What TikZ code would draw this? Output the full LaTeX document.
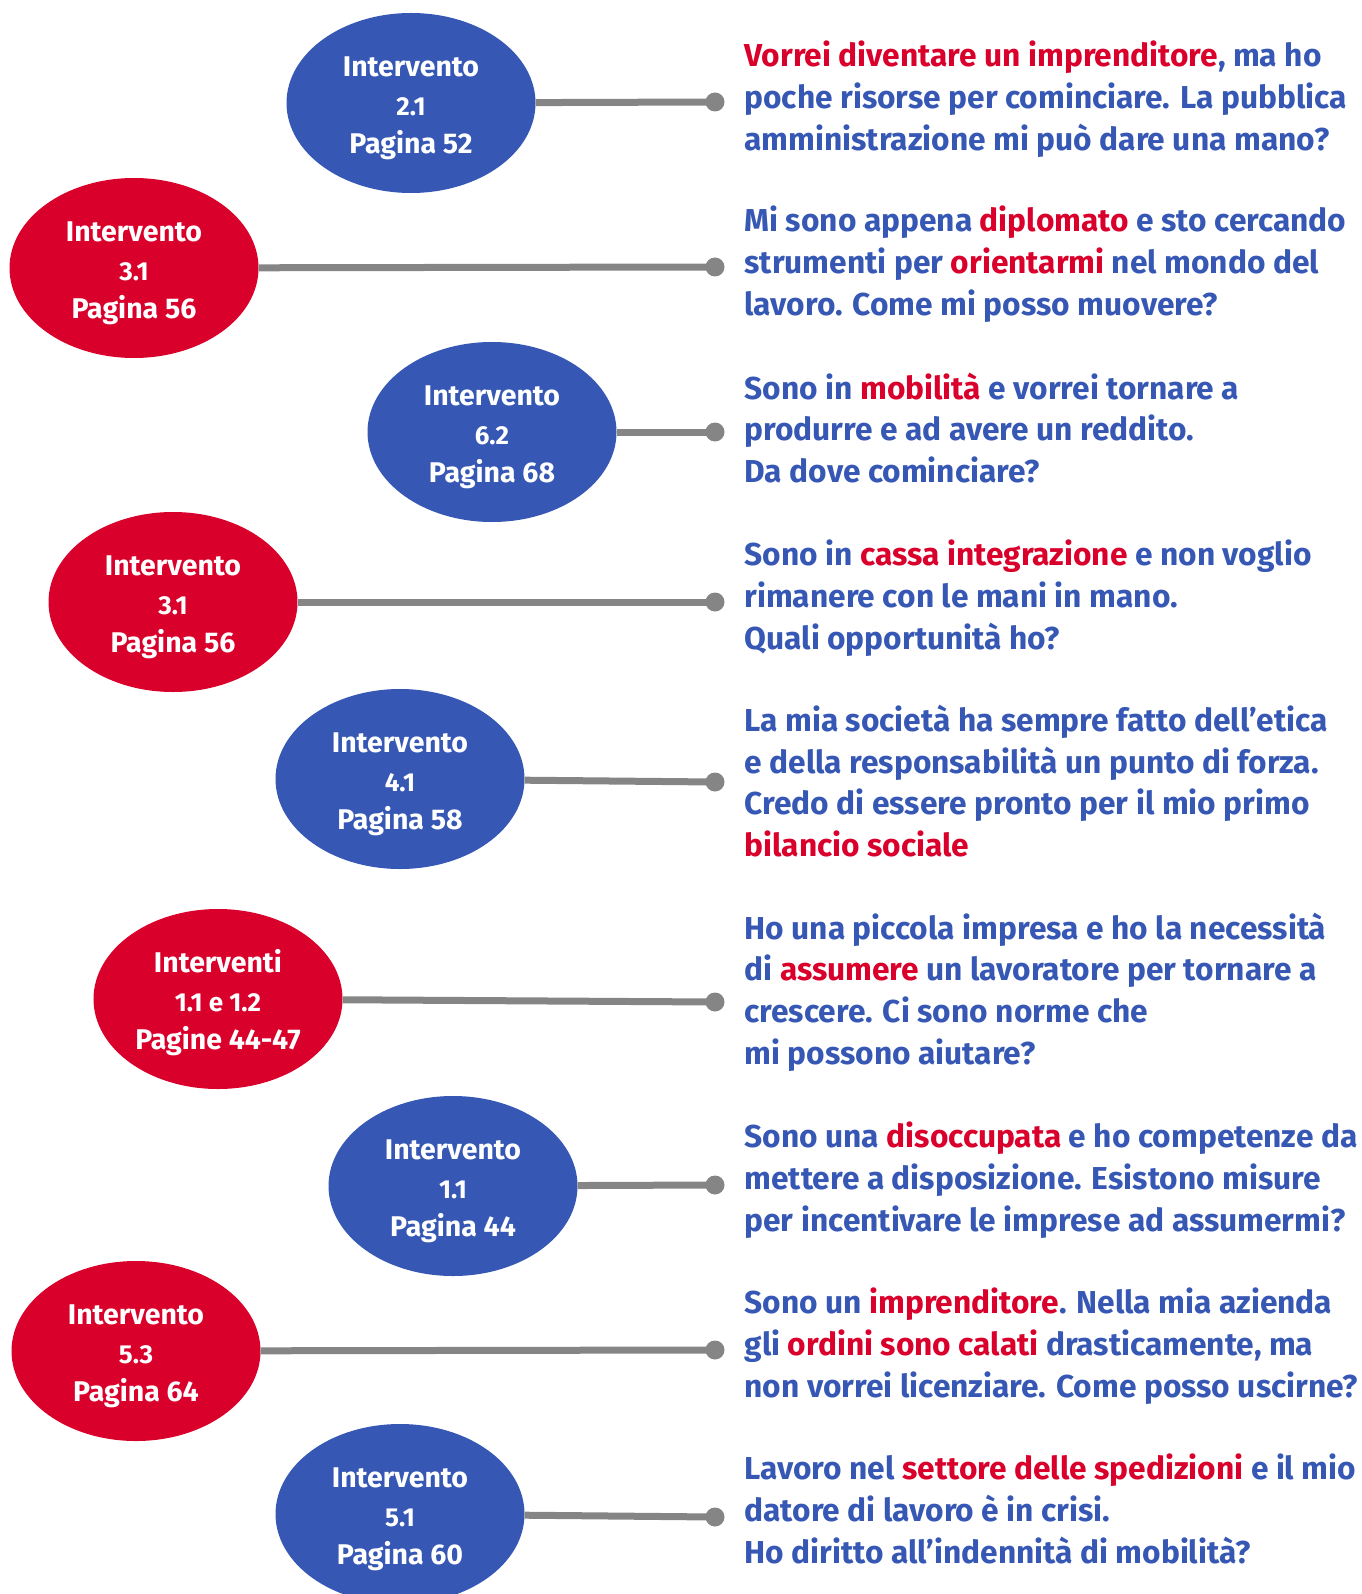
\documentclass[tikz,border=0pt]{standalone}
\usepackage{fontspec}
\setmainfont{Fira Sans}
\usetikzlibrary{shapes.geometric}

\definecolor{accentblue}{RGB}{54,88,180}
\definecolor{accentred}{RGB}{217,0,43}
\definecolor{wiregray}{RGB}{133,133,133}

\newcommand{\hl}[1]{\textcolor{accentred}{#1}}
% three lines of a bubble, the middle one a bit smaller
\newcommand{\bubbletext}[3]{\rule{0pt}{31pt}#1\\{\fontsize{26}{38.6}\selectfont #2}\\#3}

\tikzset{
  bubble/.style={ellipse, minimum width=249pt, minimum height=180pt, inner sep=0pt,
    text=white, align=center, font=\fontsize{28.5}{38.6}\selectfont\bfseries},
  bluebubble/.style={bubble, fill=accentblue},
  redbubble/.style={bubble, fill=accentred},
  question/.style={anchor=west, align=left, text=accentblue,
    font=\fontsize{31.7}{41.7}\selectfont\bfseries},
  wire/.style={line width=7pt, draw=wiregray},
  knob/.style={circle, fill=wiregray, minimum size=19pt, inner sep=0pt},
}

\begin{document}
\begin{tikzpicture}[x=1pt,y=-1pt]

    \useasboundingbox (0,0) rectangle (1361,1594);

    % 2.1
    \node[bluebubble] (i1) at (411,103) {\bubbletext{Intervento}{2.1}{Pagina 52}};
    \node[knob] (k1) at (715,102) {};
    \draw[wire] (i1) -- (k1.center);
    \node[question] (q1) at (741,99) {\hl{Vorrei diventare un imprenditore}, ma ho\\poche risorse per cominciare. La pubblica\\amministrazione mi può dare una mano?};

    % 3.1
    \node[redbubble] (i2) at (134,268) {\bubbletext{Intervento}{3.1}{Pagina 56}};
    \node[knob] (k2) at (715,267) {};
    \draw[wire] (i2) -- (k2.center);
    \node[question] (q2) at (741,264) {Mi sono appena \hl{diplomato} e sto cercando\\strumenti per \hl{orientarmi} nel mondo del\\lavoro. Come mi posso muovere?};

    % 6.2
    \node[bluebubble] (i3) at (492,432) {\bubbletext{Intervento}{6.2}{Pagina 68}};
    \node[knob] (k3) at (715,432) {};
    \draw[wire] (i3) -- (k3.center);
    \node[question] (q3) at (741,428) {Sono in \hl{mobilità} e vorrei tornare a\\produrre e ad avere un reddito.\\Da dove cominciare?};

    % 3.1 bis
    \node[redbubble] (i4) at (173,602) {\bubbletext{Intervento}{3.1}{Pagina 56}};
    \node[knob] (k4) at (715,602) {};
    \draw[wire] (i4) -- (k4.center);
    \node[question] (q4) at (741,598) {Sono in \hl{cassa integrazione} e non voglio\\rimanere con le mani in mano.\\Quali opportunità ho?};

    % 4.1
    \node[bluebubble] (i5) at (400,779) {\bubbletext{Intervento}{4.1}{Pagina 58}};
    \node[knob] (k5) at (715,782) {};
    \draw[wire] (i5) -- (k5.center);
    \node[question] (q5) at (741,781) {La mia società ha sempre fatto dell’etica\\e della responsabilità un punto di forza.\\Credo di essere pronto per il mio primo\\\hl{bilancio sociale}};

    % 1.1 e 1.2
    \node[redbubble] (i6) at (218,999) {\bubbletext{Interventi}{1.1 e 1.2}{Pagine 44-47}};
    \node[knob] (k6) at (715,1002) {};
    \draw[wire] (i6) -- (k6.center);
    \node[question] (q6) at (741,992) {Ho una piccola impresa e ho la necessità\\di \hl{assumere} un lavoratore per tornare a\\crescere. Ci sono norme che\\mi possono aiutare?};

    % 1.1
    \node[bluebubble] (i7) at (453,1186) {\bubbletext{Intervento}{1.1}{Pagina 44}};
    \node[knob] (k7) at (715,1185) {};
    \draw[wire] (i7) -- (k7.center);
    \node[question] (q7) at (741,1180) {Sono una \hl{disoccupata} e ho competenze da\\mettere a disposizione. Esistono misure\\per incentivare le imprese ad assumermi?};

    % 5.3
    \node[redbubble] (i8) at (136,1351) {\bubbletext{Intervento}{5.3}{Pagina 64}};
    \node[knob] (k8) at (715,1350) {};
    \draw[wire] (i8) -- (k8.center);
    \node[question] (q8) at (741,1346) {Sono un \hl{imprenditore}. Nella mia azienda\\gli \hl{ordini sono calati} drasticamente, ma\\non vorrei licenziare. Come posso uscirne?};

    % 5.1
    \node[bluebubble] (i9) at (400,1514) {\bubbletext{Intervento}{5.1}{Pagina 60}};
    \node[knob] (k9) at (715,1517) {};
    \draw[wire] (i9) -- (k9.center);
    \node[question] (q9) at (741,1509) {Lavoro nel \hl{settore delle spedizioni} e il mio\\datore di lavoro è in crisi.\\Ho diritto all’indennità di mobilità?};

\end{tikzpicture}
\end{document}
